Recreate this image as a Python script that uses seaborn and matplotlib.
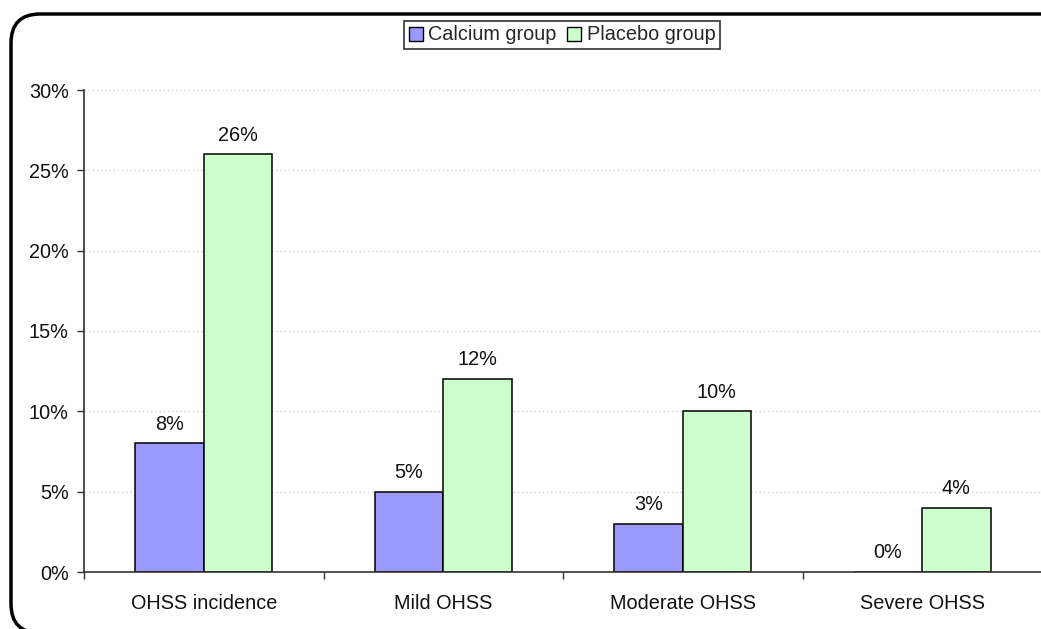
import matplotlib
matplotlib.use("Agg")
import matplotlib.pyplot as plt
from matplotlib.patches import FancyBboxPatch, Patch
from matplotlib.ticker import FuncFormatter, FixedLocator
import seaborn as sns
import pandas as pd

categories = ["OHSS incidence", "Mild OHSS", "Moderate OHSS", "Severe OHSS"]
groups = ["Calcium group", "Placebo group"]
calcium = [8, 5, 3, 0]
placebo = [26, 12, 10, 4]
y_ticks = [0, 5, 10, 15, 20, 25, 30]
colors = {"Calcium group": "#9999FF", "Placebo group": "#CCFFCC"}

df = pd.DataFrame({
    "category": categories * 2,
    "group": [groups[0]] * len(categories) + [groups[1]] * len(categories),
    "value": calcium + placebo,
})

sns.set_theme(style="white")
plt.rcParams["font.family"] = ["Liberation Sans", "DejaVu Sans"]

W, H = 1041, 629
fig = plt.figure(figsize=(W / 100, H / 100), dpi=100)
ax = fig.add_axes([84 / W, 57 / H, 958 / W, 482 / H])

sns.barplot(data=df, x="category", y="value", hue="group", order=categories,
            hue_order=groups, palette=colors, width=0.57, gap=0,
            edgecolor="black", linewidth=1.1, saturation=1, ax=ax, legend=False)

for cont in ax.containers:
    ax.bar_label(cont, labels=[f"{v:.0f}%" for v in cont.datavalues],
                 padding=7, fontsize=14.3, color="#111111")

ax.set_xlim(-0.5, len(categories) - 0.5)
ax.set_ylim(0, 30)
ax.set_yticks(y_ticks)
ax.yaxis.set_major_formatter(FuncFormatter(lambda v, _: f"{v:.0f}%"))
ax.set_xlabel("")
ax.set_ylabel("")

ax.grid(axis="y", linestyle=(0, (1, 2)), color="#cfcfcf", linewidth=1)
ax.set_axisbelow(True)

for side in ["top", "right"]:
    ax.spines[side].set_visible(False)
for side in ["left", "bottom"]:
    ax.spines[side].set_color("#333333")
    ax.spines[side].set_linewidth(1.2)

ax.tick_params(axis="y", which="major", left=True, length=5, width=1,
               color="#333333", labelsize=14.3, pad=6, labelcolor="#111111")
ax.tick_params(axis="x", which="major", bottom=False, labelsize=14.3, pad=10,
               labelcolor="#111111")
ax.xaxis.set_minor_locator(FixedLocator([i - 0.5 for i in range(len(categories) + 1)]))
ax.tick_params(axis="x", which="minor", bottom=True, length=5, width=1,
               color="#333333", direction="out")

handles = [Patch(facecolor=colors[g], edgecolor="black", linewidth=1, label=g)
           for g in groups]
leg = fig.legend(handles=handles, loc="center", bbox_to_anchor=(562 / W, 1 - 35 / H),
                 ncol=2, fontsize=14.3, frameon=True, fancybox=False,
                 handlelength=0.7, handleheight=0.7, handletextpad=0.3,
                 columnspacing=0.5, borderpad=0.25, borderaxespad=0)
leg.get_frame().set_edgecolor("black")
leg.get_frame().set_linewidth(1.2)

# rounded outer frame around the whole chart, running past the right and bottom edges
frame = FancyBboxPatch((11 / W, -4 / H), 1100 / W, 619 / H,
                       boxstyle="round,pad=0,rounding_size=0.028",
                       transform=fig.transFigure, facecolor="none",
                       edgecolor="black", linewidth=2.5, clip_on=False,
                       mutation_aspect=W / H)
fig.patches.append(frame)

fig.savefig("out.png", dpi=100)
